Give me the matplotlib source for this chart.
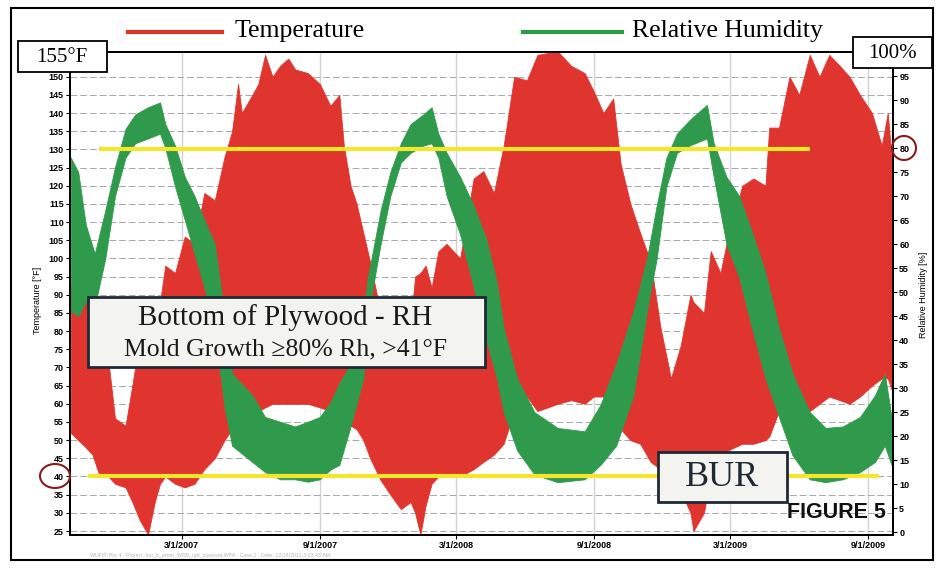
import matplotlib
matplotlib.use('Agg')
import matplotlib.pyplot as plt
from matplotlib.lines import Line2D
from matplotlib.patches import Rectangle, Ellipse
import pandas as pd

# relative humidity band (daily high / low), %
rh_dates = ['2006-10-04', '2006-10-14', '2006-10-24', '2006-11-05', '2006-11-19', '2006-12-02',
            '2006-12-16', '2006-12-29', '2007-01-15', '2007-01-31', '2007-02-07', '2007-02-20',
            '2007-03-05', '2007-03-18', '2007-03-31', '2007-04-14', '2007-04-27', '2007-05-07',
            '2007-06-03', '2007-06-20', '2007-07-10', '2007-07-30', '2007-08-16', '2007-09-01',
            '2007-09-15', '2007-09-27', '2007-10-12', '2007-10-29', '2007-11-04', '2007-11-21',
            '2007-12-04', '2007-12-18', '2007-12-31', '2008-01-17', '2008-01-28', '2008-02-06',
            '2008-02-17', '2008-03-06', '2008-03-24', '2008-04-10', '2008-04-24', '2008-05-03',
            '2008-05-21', '2008-06-13', '2008-07-14', '2008-08-19', '2008-09-09', '2008-09-30',
            '2008-10-23', '2008-11-10', '2008-11-23', '2008-12-06', '2008-12-20', '2009-01-07',
            '2009-01-29', '2009-02-07', '2009-02-24', '2009-03-13', '2009-03-30', '2009-04-17',
            '2009-05-05', '2009-05-23', '2009-06-15', '2009-07-06', '2009-07-29', '2009-08-21',
            '2009-09-10', '2009-09-23', '2009-10-02']
rh_high = [78, 75, 64, 58, 67, 76, 84, 87, 88.5, 89.5, 85, 80.5,
           74, 70, 65, 60, 45, 33, 28.5, 24, 23, 22, 23, 24,
           27, 31, 35, 46, 53, 67, 75, 81, 85, 87, 88.5, 83,
           79, 74, 68, 61, 52, 42.5, 32, 25, 21.7, 21, 26.5, 35,
           46, 57, 68, 78, 83, 86, 89, 81, 74, 70, 62.5, 54,
           42.5, 33, 25, 21.7, 22, 24, 28.5, 33, 24]
rh_low = [46, 45, 48, 47, 57, 70, 78, 81, 82, 83, 80, 72,
          65, 58, 51, 42, 26, 18, 14.6, 12.5, 11, 11, 10.5, 11,
          13, 14, 22, 32, 45, 60, 70, 77, 79, 80.5, 81, 78,
          70, 62, 51, 40, 32, 25, 17, 12, 10.4, 11, 14, 18,
          28.5, 46, 57, 72, 79, 80.6, 82, 74, 60, 53, 42.5, 32,
          24, 16, 11, 10.4, 11, 12.5, 14.6, 18, 14]

# temperature band (daily high / low), °F
temp_dates = ['2006-10-04', '2006-10-14', '2006-10-24', '2006-11-02', '2006-11-10', '2006-11-23',
              '2006-12-02', '2006-12-16', '2006-12-25', '2007-01-04', '2007-01-15', '2007-01-24',
              '2007-01-31', '2007-02-07', '2007-02-20', '2007-03-05', '2007-03-18', '2007-03-31',
              '2007-04-14', '2007-04-27', '2007-05-07', '2007-05-15', '2007-05-20', '2007-06-03',
              '2007-06-11', '2007-06-20', '2007-06-30', '2007-07-10', '2007-07-21', '2007-07-30',
              '2007-08-16', '2007-09-01', '2007-09-15', '2007-09-27', '2007-10-03', '2007-10-12',
              '2007-10-20', '2007-10-29', '2007-11-07', '2007-11-21', '2007-12-04', '2007-12-18',
              '2007-12-31', '2008-01-06', '2008-01-13', '2008-01-20', '2008-01-28', '2008-02-06',
              '2008-02-17', '2008-03-06', '2008-03-24', '2008-04-06', '2008-04-20', '2008-05-03',
              '2008-05-17', '2008-06-03', '2008-06-17', '2008-07-14', '2008-08-01', '2008-08-19',
              '2008-08-31', '2008-09-13', '2008-09-26', '2008-10-06', '2008-10-19', '2008-11-01',
              '2008-11-15', '2008-11-28', '2008-12-12', '2008-12-25', '2009-01-07', '2009-01-11',
              '2009-01-25', '2009-02-03', '2009-02-16', '2009-02-24', '2009-03-17', '2009-04-01',
              '2009-04-17', '2009-04-22', '2009-05-05', '2009-05-19', '2009-06-01', '2009-06-15',
              '2009-06-28', '2009-07-11', '2009-07-25', '2009-08-07', '2009-08-21', '2009-09-06',
              '2009-09-19', '2009-09-27', '2009-10-02']
temp_high = [92, 100, 109, 100, 85, 72, 56, 54, 65, 78, 78, 80,
             88, 98, 96, 106, 104, 118, 116, 128, 135, 148, 140, 145,
             148, 156, 150, 153, 155, 152, 151, 148, 142, 145, 131, 120,
             115, 107, 99, 85, 80, 78, 82, 95, 96, 98, 92, 102,
             104, 100, 122, 124, 118, 131, 150, 149, 156, 157, 153, 151,
             146, 140, 144, 126, 115, 107, 99, 81, 67, 76, 90, 88,
             85, 102, 96, 104, 120, 122, 120, 136, 136, 150, 145, 156,
             150, 156, 153, 150, 145, 140, 131, 140, 128]
temp_low = [52, 50, 48, 46, 41, 40, 38, 37, 33, 28, 24, 33,
            38, 40, 38, 37, 38, 42, 45, 50, 53, 55, 56, 58,
            58, 59, 60, 60, 60, 60, 60, 59, 58, 57, 55, 54,
            53, 50, 45, 39, 35, 31, 33, 30, 24, 32, 38, 40,
            40, 40, 42, 44, 46, 49, 58, 62, 58, 60, 61, 60,
            62, 62, 58, 53, 50, 49, 44, 42, 40, 36, 30, 25,
            30, 40, 45, 47, 49, 49, 50, 51, 58, 62, 60, 58,
            60, 62, 61, 60, 62, 65, 67, 67, 64]

tick_dates = ['2007-03-01', '2007-09-01', '2008-03-01', '2008-09-01', '2009-03-01', '2009-09-01']
tick_labels = ['3/1/2007', '9/1/2007', '3/1/2008', '9/1/2008', '3/1/2009', '9/1/2009']

RED = '#e0352e'
GREEN = '#2f9a4c'
YELLOW = '#f3e62c'
NAVY = '#1d2a36'
W, H = 941, 569


def fx(x):
    return x / W


def fy(y):
    return 1 - y / H


fig = plt.figure(figsize=(9.41, 5.69), dpi=100)
ax = fig.add_axes([fx(70), fy(535), fx(893) - fx(70), fy(52) - fy(535)])
ax2 = ax.twinx()

t = pd.to_datetime(temp_dates)
ax.fill_between(t, temp_low, temp_high, color=RED, lw=0.6)
r = pd.to_datetime(rh_dates)
ax2.fill_between(r, rh_low, rh_high, color=GREEN, lw=0.6)

# yellow threshold lines (80 % RH / 40 °F) on top of both bands
ax2.plot(pd.to_datetime(['2006-11-10', '2009-06-16']), [130, 130], color=YELLOW, lw=3,
         transform=ax.transData, solid_capstyle='butt', zorder=5)
ax2.plot(pd.to_datetime(['2006-10-27', '2009-09-16']), [40, 40], color=YELLOW, lw=3,
         transform=ax.transData, solid_capstyle='butt', zorder=5)

ax.set_xlim(pd.Timestamp('2006-10-03'), pd.Timestamp('2009-10-04'))
ax.set_ylim(23.9, 156.8)
ax2.set_ylim(-0.6, 100)
ax.set_yticks(range(25, 151, 5))
ax2.set_yticks(range(0, 96, 5))
ax.set_xticks(pd.to_datetime(tick_dates))
ax.set_xticklabels(tick_labels)

tick_font = dict(family='Liberation Sans', weight='bold', size=6.5)
for a in (ax, ax2):
    a.tick_params(length=3, width=0.8, pad=1.5)
    for lab in a.get_yticklabels() + a.get_xticklabels():
        lab.set_fontproperties(tick_font)
    for s in a.spines.values():
        s.set_linewidth(1.4)
ax.tick_params(axis='x', pad=1)

ax.set_axisbelow(True)
ax.yaxis.grid(True, color='#a8a8a8', ls=(0, (7, 3)), lw=0.7)
ax.xaxis.grid(True, color='#d2d2d2', lw=1.0)

fig.text(fx(38), fy(300), 'Temperature [°F]', rotation=90, ha='center', va='center',
         family='Liberation Sans', size=6.5)
fig.text(fx(924), fy(295), 'Relative Humidity [%]', rotation=90, ha='center', va='center',
         family='Liberation Sans', size=6.5)

# outer frame
fig.add_artist(Rectangle((fx(11), fy(560)), 922 / W, 552 / H, transform=fig.transFigure,
                         fill=False, ec='black', lw=1.5))

# legend
fig.add_artist(Line2D([fx(128), fx(222)], [fy(32), fy(32)], color=RED, lw=3))
fig.text(fx(235), fy(31), 'Temperature', family='Liberation Serif', size=18.5, va='center')
fig.add_artist(Line2D([fx(523), fx(622)], [fy(32), fy(32)], color=GREEN, lw=3))
fig.text(fx(632), fy(31), 'Relative Humidity', family='Liberation Serif', size=18.5, va='center')


def box(x0, y0, x1, y1, fc='white', ec='black', lw=1.3):
    fig.add_artist(Rectangle((fx(x0), fy(y1)), (x1 - x0) / W, (y1 - y0) / H,
                             transform=fig.transFigure, fc=fc, ec=ec, lw=lw, zorder=4))


box(18, 41, 107, 72)
fig.text(fx(62), fy(57), '155°F', family='Liberation Serif', size=15, ha='center', va='center', zorder=5)
box(853, 37, 932, 68)
fig.text(fx(892), fy(53), '100%', family='Liberation Serif', size=15, ha='center', va='center', zorder=5)

box(88, 297, 485, 367, fc='#f3f3f0', ec=NAVY, lw=2)
fig.text(fx(285), fy(318), 'Bottom of Plywood - RH', family='Liberation Serif', size=21,
         ha='center', va='center', color='#1a1a1a', zorder=5)
fig.text(fx(285), fy(349), 'Mold Growth ≥80% Rh, >41°F', family='Liberation Serif', size=18.5,
         ha='center', va='center', color='#1a1a1a', zorder=5)

box(658, 452, 787, 502, fc='#f3f3f0', ec=NAVY, lw=2)
fig.text(fx(722), fy(478), 'BUR', family='Liberation Serif', size=26,
         ha='center', va='center', color=NAVY, zorder=5)

fig.text(fx(836), fy(512), 'FIGURE 5', family='Liberation Sans', weight='bold',
         size=15.5, ha='center', va='center', color='#111111', zorder=5)

# red circles on the 40 °F and 80 % tick labels
fig.add_artist(Ellipse((fx(55), fy(476)), 30 / W, 24 / H, transform=fig.transFigure,
                       fill=False, ec='#8a1c1c', lw=1.5, zorder=5))
fig.add_artist(Ellipse((fx(904), fy(148)), 24 / W, 24 / H, transform=fig.transFigure,
                       fill=False, ec='#8a1c1c', lw=1.5, zorder=5))

fig.text(fx(90), fy(555), 'WUFI® Pro 4 - Project: bur_b_pmm_WRB_rgb_plywood.WP4 - Case 1 - Date: 12/18/2011 3:03:43 AM',
         family='Liberation Sans', size=3.8, color='#b4b4b4', va='center')

fig.savefig('out.png', dpi=100, facecolor='white')
